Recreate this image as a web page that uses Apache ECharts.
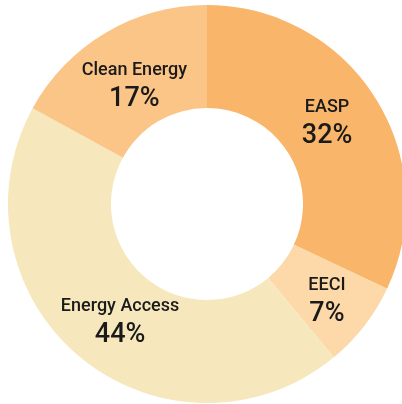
<!DOCTYPE html>
<html>
<head>
<meta charset="utf-8">
<script src="https://cdn.jsdelivr.net/npm/echarts@6/dist/echarts.min.js"></script>
<style>
  html, body { margin: 0; padding: 0; background: #fff; }
  #main { width: 402px; height: 404px; }
</style>
</head>
<body>
<div id="main"></div>
<script>
var names = ['EASP', 'EECI', 'Energy Access', 'Clean Energy'];
var values = [32, 7, 44, 17];
var colors = ['#F9B66B', '#FDD8A9', '#F6E8BC', '#FBC587'];
// nudges so the labels sit where the original puts them
var labelShift = [[-7, 0], [1, 5], [9, 2], [4, 12]];

var chartDom = document.getElementById('main');
var myChart = echarts.init(chartDom);

var data = [];
for (var i = 0; i < names.length; i++) {
	data.push({
		name: names[i],
		value: values[i],
		itemStyle: { color: colors[i] },
		label: { offset: labelShift[i] }
	});
}

var option = {
	animation: false,
	series: [{
		type: 'pie',
		center: [207, 204],
		radius: [96, 199],
		startAngle: 90,
		clockwise: true,
		avoidLabelOverlap: false,
		itemStyle: { borderWidth: 0 },
		label: {
			show: true,
			position: 'inside',
			formatter: function (p) {
				return '{n|' + p.name + '}\n{v|' + p.value + '%}';
			},
			rich: {
				n: {
					fontFamily: 'Roboto',
					fontWeight: 500,
					fontSize: 18,
					color: '#1a1a1a',
					lineHeight: 26,
					align: 'center'
				},
				v: {
					fontFamily: 'Roboto',
					fontWeight: 500,
					fontSize: 27,
					color: '#1a1a1a',
					lineHeight: 31,
					align: 'center'
				}
			}
		},
		labelLine: { show: false },
		data: data
	}]
};

myChart.setOption(option);
</script>
</body>
</html>
